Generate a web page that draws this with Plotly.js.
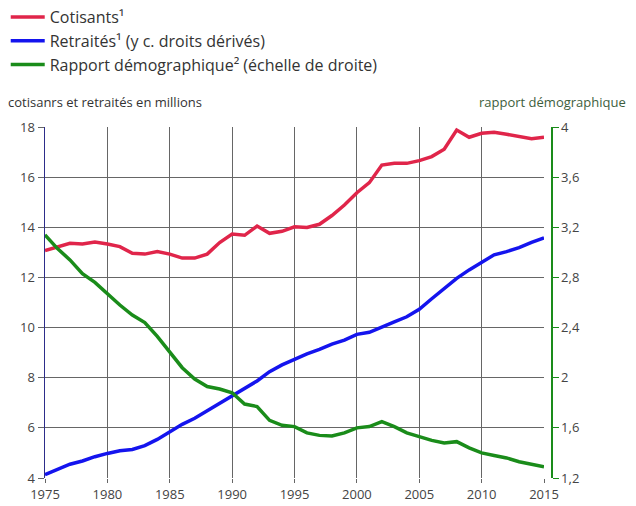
<!DOCTYPE html>
<html><head><meta charset="utf-8">
<script src="https://cdn.plot.ly/plotly-3.0.1.min.js"></script>
<style>html,body{margin:0;padding:0;background:#fff}#chart{width:636px;height:506px}</style>
</head><body><div id="chart"></div>
<script>
const years = [1975,1976,1977,1978,1979,1980,1981,1982,1983,1984,1985,1986,1987,1988,1989,1990,1991,1992,1993,1994,1995,1996,1997,1998,1999,2000,2001,2002,2003,2004,2005,2006,2007,2008,2009,2010,2011,2012,2013,2014,2015];
const cotisants = [13.07,13.23,13.36,13.33,13.41,13.33,13.23,12.96,12.93,13.03,12.93,12.77,12.77,12.93,13.39,13.73,13.68,14.05,13.76,13.84,14.02,13.99,14.12,14.47,14.89,15.38,15.78,16.48,16.55,16.55,16.66,16.82,17.11,17.88,17.59,17.75,17.79,17.71,17.61,17.53,17.59];
const retraites = [4.13,4.35,4.55,4.68,4.85,4.98,5.09,5.14,5.29,5.54,5.82,6.14,6.38,6.68,7.0,7.31,7.6,7.87,8.24,8.51,8.73,8.95,9.13,9.34,9.5,9.73,9.81,10.03,10.23,10.43,10.73,11.15,11.57,11.96,12.3,12.59,12.9,13.03,13.19,13.4,13.58];
const rapport = [3.14,3.03,2.94,2.83,2.76,2.67,2.58,2.5,2.44,2.33,2.21,2.08,1.99,1.93,1.91,1.88,1.79,1.77,1.66,1.62,1.61,1.56,1.54,1.535,1.56,1.6,1.61,1.65,1.61,1.56,1.53,1.5,1.48,1.49,1.44,1.4,1.38,1.36,1.33,1.31,1.29];
const seriesNames = ['Cotisants¹','Retraités¹ (y c. droits dérivés)','Rapport démographique² (échelle de droite)'];
const xTicks = [1975,1980,1985,1990,1995,2000,2005,2010,2015];
const leftTicks = [4,6,8,10,12,14,16,18];
const rightTicks = [1.2,1.6,2,2.4,2.8,3.2,3.6,4];
const rightTickText = ['1,2','1,6','2','2,4','2,8','3,2','3,6','4'];
const leftTitle = 'cotisanrs et retraités en millions';
const rightTitle = 'rapport démographique';

const ff = '"Open Sans", sans-serif';
const tickFont = {family:ff, size:13, color:'#444'};
const traces = [
  {x:years, y:cotisants, name:seriesNames[0], type:'scatter', mode:'lines', line:{color:'#e0254a', width:3.5}},
  {x:years, y:retraites, name:seriesNames[1], type:'scatter', mode:'lines', line:{color:'#1414ee', width:3.5}},
  {x:years, y:rapport, name:seriesNames[2], type:'scatter', mode:'lines', yaxis:'y2', line:{color:'#1a8c1a', width:3.5}}
];
const layout = {
  width:636, height:506,
  margin:{l:45, r:85, t:127, b:28, autoexpand:false},
  paper_bgcolor:'#fff', plot_bgcolor:'#fff',
  font:tickFont,
  showlegend:true,
  legend:{xref:'container', yref:'container', x:0.009, y:1, xanchor:'left', yanchor:'top', font:{family:ff, size:16, color:'#333'}, tracegroupgap:0, itemwidth:34, bgcolor:'rgba(0,0,0,0)'},
  xaxis:{domain:[0,0.9862], range:[1975,2015], tickvals:xTicks, showgrid:true, gridcolor:'#666', gridwidth:1, zeroline:false, ticks:'outside', ticklen:4, tickcolor:'#666', showline:false, tickfont:tickFont},
  yaxis:{range:[4,18], tickvals:leftTicks, showgrid:true, gridcolor:'#666', gridwidth:1, zeroline:false, ticks:'outside', ticklen:6, tickcolor:'#666', showline:true, linecolor:'#2d2d8a', linewidth:1.5, tickfont:tickFont},
  yaxis2:{range:[1.2,4], overlaying:'y', side:'right', anchor:'free', position:1, tickvals:rightTicks, ticktext:rightTickText, showgrid:false, zeroline:false, ticks:'outside', ticklen:6, tickcolor:'#1a8c1a', showline:true, linecolor:'#1a8c1a', linewidth:1.5, tickfont:tickFont},
  annotations:[
    {text:leftTitle, xref:'paper', yref:'paper', x:-0.077, y:1.04, xanchor:'left', yanchor:'bottom', showarrow:false, font:{family:ff, size:13, color:'#333'}},
    {text:rightTitle, xref:'paper', yref:'paper', x:1.152, y:1.04, xanchor:'right', yanchor:'bottom', showarrow:false, font:{family:ff, size:13, color:'#3d5e3d'}}
  ]
};
Plotly.newPlot('chart', traces, layout, {displayModeBar:false, staticPlot:true});
</script></body></html>
